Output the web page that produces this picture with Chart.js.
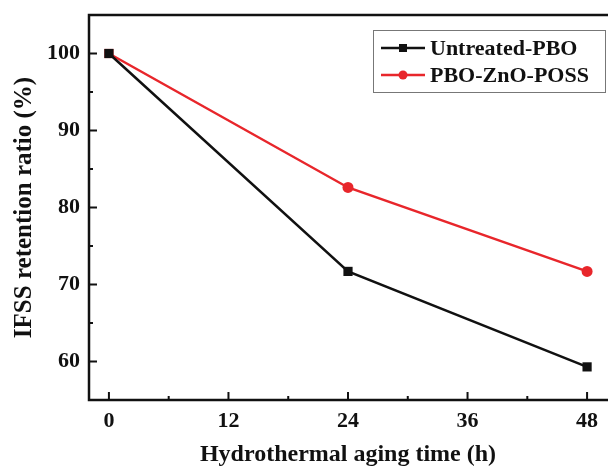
<!DOCTYPE html>
<html>
<head>
<meta charset="utf-8">
<script src="https://cdn.jsdelivr.net/npm/chart.js@4.4.1/dist/chart.umd.min.js"></script>
<style>
html,body{margin:0;padding:0;background:#fff;}
#wrap{width:608px;height:472px;position:relative;}
</style>
</head>
<body>
<div id="wrap"><canvas id="c" width="608" height="472"></canvas></div>
<script>
const hours = [0, 24, 48];
const untreatedPBO = [100, 71.7, 59.3];
const pboZnoPoss = [100, 82.6, 71.7];
const xTickValues = [0, 12, 24, 36, 48];
const xMinorValues = [6, 18, 30, 42];
const yTickValues = [60, 70, 80, 90, 100];
const yMinorValues = [65, 75, 85, 95];
const seriesNames = ['Untreated-PBO', 'PBO-ZnO-POSS'];
const xTitle = 'Hydrothermal aging time (h)';
const yTitle = 'IFSS retention ratio (%)';

const FONT = '"Liberation Serif", "Times New Roman", serif';
const RED = '#e8262b';
const BLACK = '#111111';

const framePlugin = {
  id: 'frame',
  afterDatasetsDraw(chart) {
    const {ctx, chartArea: a, scales: {x, y}} = chart;
    ctx.save();
    ctx.strokeStyle = '#111';
    ctx.lineWidth = 2.5;
    ctx.beginPath();
    ctx.moveTo(a.left, a.top); ctx.lineTo(a.right + 2, a.top);
    ctx.moveTo(a.left, a.top - 1.2); ctx.lineTo(a.left, a.bottom + 1.2);
    ctx.moveTo(a.left - 1.2, a.bottom); ctx.lineTo(a.right + 2, a.bottom);
    ctx.stroke();
    ctx.lineWidth = 2;
    ctx.beginPath();
    xTickValues.forEach(v => { const px = x.getPixelForValue(v); ctx.moveTo(px, a.bottom); ctx.lineTo(px, a.bottom - 8); });
    xMinorValues.forEach(v => { const px = x.getPixelForValue(v); ctx.moveTo(px, a.bottom); ctx.lineTo(px, a.bottom - 4); });
    yTickValues.forEach(v => { const py = y.getPixelForValue(v); ctx.moveTo(a.left, py); ctx.lineTo(a.left + 8, py); });
    yMinorValues.forEach(v => { const py = y.getPixelForValue(v); ctx.moveTo(a.left, py); ctx.lineTo(a.left + 4, py); });
    ctx.stroke();

    // legend
    const bx = 373, by = 30, bw = 232, bh = 62;
    ctx.lineWidth = 1;
    ctx.strokeStyle = '#777';
    ctx.fillStyle = '#fff';
    ctx.fillRect(bx, by, bw, bh);
    ctx.strokeRect(bx + 0.5, by + 0.5, bw, bh);
    chart.data.datasets.forEach((ds, i) => {
      const ry = by + 18 + i * 27;
      ctx.strokeStyle = ds.borderColor;
      ctx.lineWidth = 2.5;
      ctx.beginPath(); ctx.moveTo(381, ry); ctx.lineTo(425, ry); ctx.stroke();
      ctx.fillStyle = ds.borderColor;
      if (i === 0) { ctx.fillRect(399, ry - 4, 8, 8); }
      else { ctx.beginPath(); ctx.arc(403, ry, 4.5, 0, Math.PI * 2); ctx.fill(); }
      ctx.fillStyle = '#111';
      ctx.font = 'bold 22px ' + FONT;
      ctx.textBaseline = 'middle';
      ctx.textAlign = 'left';
      ctx.fillText(ds.label, 430, ry + 1);
    });
    ctx.restore();
  }
};

new Chart(document.getElementById('c'), {
  type: 'line',
  data: {
    datasets: [
      {
        label: seriesNames[0],
        data: hours.map((h, i) => ({x: h, y: untreatedPBO[i]})),
        borderColor: BLACK, backgroundColor: BLACK,
        borderWidth: 2.5, pointStyle: 'rect', pointRadius: 6.5,
        pointBorderWidth: 0, tension: 0
      },
      {
        label: seriesNames[1],
        data: hours.map((h, i) => ({x: h, y: pboZnoPoss[i]})),
        borderColor: RED, backgroundColor: RED,
        borderWidth: 2.5, pointStyle: ['rect', 'circle', 'circle'], pointRadius: [6.5, 5.5, 5.5],
        pointBorderWidth: 0, tension: 0
      }
    ]
  },
  options: {
    responsive: false,
    animation: false,
    devicePixelRatio: 1,
    layout: {autoPadding: false, padding: {top: 15, right: 1, left: 0, bottom: 0}},
    plugins: {legend: {display: false}, tooltip: {enabled: false}},
    scales: {
      x: {
        type: 'linear', min: -2, max: 50,
        afterBuildTicks: s => { s.ticks = xTickValues.map(v => ({value: v})); },
        afterFit: s => { s.height = 72; s.paddingLeft = 0; s.paddingRight = 0; },
        grid: {display: false, drawTicks: false}, border: {display: false},
        ticks: {color: '#111', font: {family: FONT, size: 22, weight: 'bold'}, padding: 8, maxRotation: 0},
        title: {display: true, text: xTitle, color: '#111', font: {family: FONT, size: 24, weight: 'bold'}, padding: {top: 0, bottom: 3}}
      },
      y: {
        type: 'linear', min: 55, max: 105,
        afterBuildTicks: s => { s.ticks = yTickValues.map(v => ({value: v})); },
        afterFit: s => { s.width = 89; s.paddingTop = 0; s.paddingBottom = 0; },
        grid: {display: false, drawTicks: false}, border: {display: false},
        ticks: {color: '#111', font: {family: FONT, size: 22, weight: 'bold'}, padding: 9},
        title: {display: true, text: yTitle, color: '#111', font: {family: FONT, size: 25, weight: 'bold'}, padding: {top: 10, bottom: 0}}
      }
    }
  },
  plugins: [framePlugin]
});
</script>
</body>
</html>
